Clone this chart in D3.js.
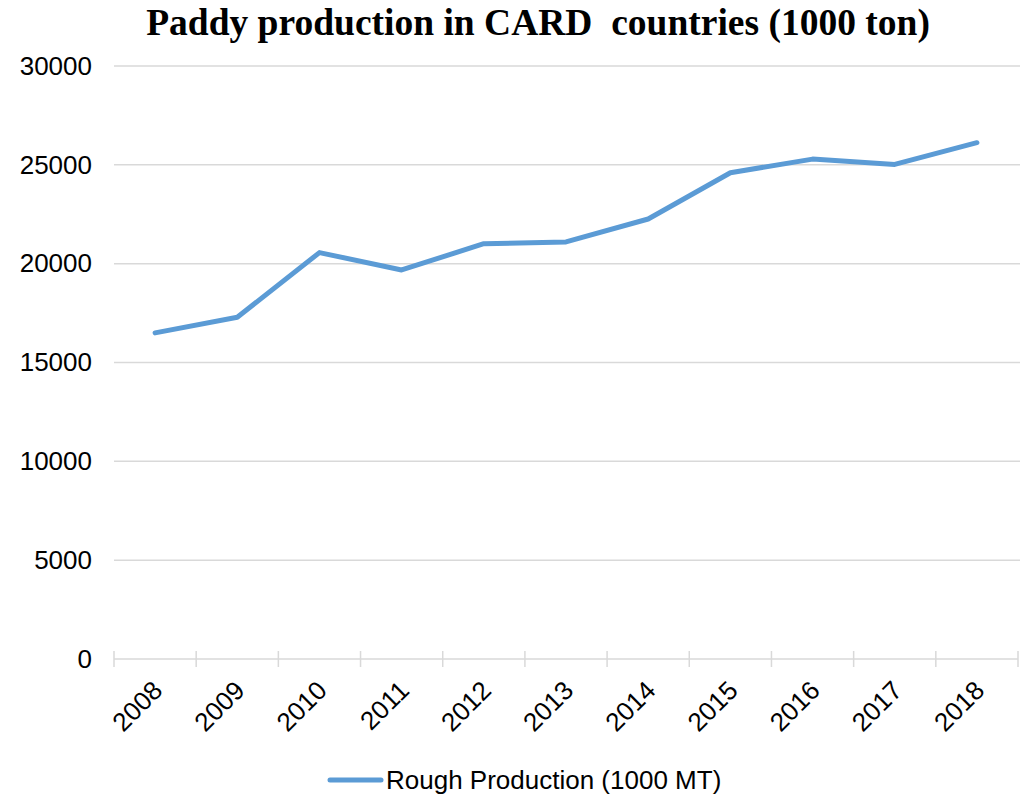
<!DOCTYPE html>
<html>
<head>
<meta charset="utf-8">
<script src="https://cdn.jsdelivr.net/npm/d3@7"></script>
<style>
  body { margin: 0; background: #fff; }
  svg { display: block; }
</style>
</head>
<body>
<div id="wrapper"></div>
<script>
// values (1000 ton)
const years = ["2008", "2009", "2010", "2011", "2012", "2013", "2014", "2015", "2016", "2017", "2018"];
const production = [16500, 17290, 20560, 19680, 21010, 21100, 22260, 24600, 25290, 25020, 26120];
const yTicks = [0, 5000, 10000, 15000, 20000, 25000, 30000];
const seriesName = "Rough Production (1000 MT)";
const chartTitle = "Paddy production in CARD  countries (1000 ton)";

function buildPlot() {
    const width = 1025, height = 794;
    const margin = { top: 66, left: 114, right: 7, bottom: 135 };

    const svg = d3.select("#wrapper").append("svg")
        .attr("width", width)
        .attr("height", height);

    const xScaler = d3.scaleBand()
        .domain(years)
        .range([margin.left, width - margin.right]);

    const yScaler = d3.scaleLinear()
        .domain([0, 30000])
        .range([height - margin.bottom, margin.top]);

    // grid lines
    svg.append("g")
        .selectAll("line")
        .data(yTicks.filter(d => d > 0))
        .join("line")
        .attr("x1", margin.left)
        .attr("x2", width - 5)
        .attr("y1", d => yScaler(d))
        .attr("y2", d => yScaler(d))
        .attr("stroke", "#d9d9d9")
        .attr("stroke-width", 1.5);

    // y axis labels
    const yAxis = d3.axisLeft(yScaler)
        .tickValues(yTicks)
        .tickSize(0)
        .tickPadding(22)
        .tickFormat(d => d);
    const yG = svg.append("g")
        .attr("transform", `translate(${margin.left},0)`)
        .call(yAxis);
    yG.select(".domain").remove();
    yG.selectAll("text")
        .attr("font-family", "Liberation Sans, Arial, sans-serif")
        .attr("font-size", 26)
        .attr("fill", "#000");

    // x axis with cross ticks
    const y0 = yScaler(0);
    const xG = svg.append("g");
    xG.append("line")
        .attr("x1", margin.left)
        .attr("x2", width - margin.right)
        .attr("y1", y0)
        .attr("y2", y0)
        .attr("stroke", "#d9d9d9")
        .attr("stroke-width", 1.5);
    const tickXs = years.map(d => xScaler(d)).concat([xScaler.range()[1]]);
    xG.selectAll("line.tick")
        .data(tickXs)
        .join("line")
        .attr("class", "tick")
        .attr("x1", d => d)
        .attr("x2", d => d)
        .attr("y1", y0 - 8)
        .attr("y2", y0 + 8)
        .attr("stroke", "#d9d9d9")
        .attr("stroke-width", 1.5);
    xG.selectAll("text")
        .data(years)
        .join("text")
        .attr("transform", d => `translate(${xScaler(d) + xScaler.bandwidth() / 2 + 9},${y0 + 33}) rotate(-45)`)
        .attr("text-anchor", "end")
        .attr("font-family", "Liberation Sans, Arial, sans-serif")
        .attr("font-size", 26)
        .attr("fill", "#000")
        .text(d => d);

    // the line
    const lineGenerator = d3.line()
        .x((d, i) => xScaler(years[i]) + xScaler.bandwidth() / 2)
        .y(d => yScaler(d));

    svg.append("path")
        .attr("d", lineGenerator(production))
        .attr("fill", "none")
        .attr("stroke", "#5b9bd5")
        .attr("stroke-width", 5)
        .attr("stroke-linejoin", "round")
        .attr("stroke-linecap", "round");

    // title
    svg.append("text")
        .attr("x", 538)
        .attr("y", 35)
        .attr("text-anchor", "middle")
        .attr("font-family", "Liberation Serif, Times New Roman, serif")
        .attr("font-weight", "bold")
        .attr("font-size", 37.5)
        .style("white-space", "pre")
        .attr("fill", "#000")
        .text(chartTitle);

    // legend
    const legend = svg.append("g");
    legend.append("line")
        .attr("x1", 330)
        .attr("x2", 381)
        .attr("y1", 780)
        .attr("y2", 780)
        .attr("stroke", "#5b9bd5")
        .attr("stroke-width", 5)
        .attr("stroke-linecap", "round");
    legend.append("text")
        .attr("x", 386)
        .attr("y", 789)
        .attr("font-family", "Liberation Sans, Arial, sans-serif")
        .attr("font-size", 26)
        .attr("fill", "#000")
        .text(seriesName);
}

buildPlot();
</script>
</body>
</html>
